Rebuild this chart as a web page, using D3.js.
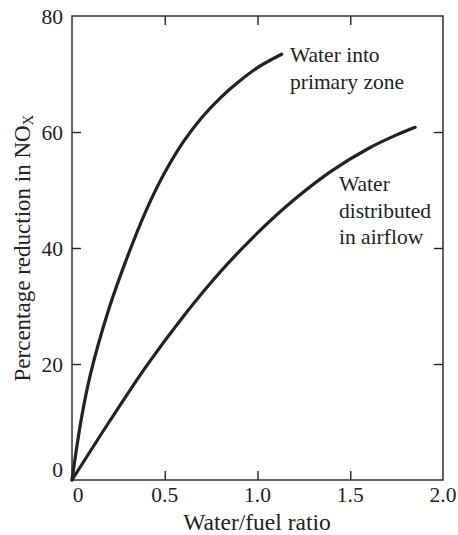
<!DOCTYPE html>
<html>
<head>
<meta charset="utf-8">
<script src="https://cdn.jsdelivr.net/npm/d3@7"></script>
<style>
  html, body { margin: 0; padding: 0; background: #fff; }
  svg { display: block; }
  text { font-family: "Liberation Serif", "Times New Roman", serif; fill: #222; }
</style>
</head>
<body>
<svg id="chart" width="458" height="535"></svg>
<script>
// Water/fuel ratio vs. percentage NOx reduction
const primaryRatio = [0, 0.05, 0.1, 0.2, 0.3, 0.4, 0.5, 0.6, 0.7, 0.8, 0.9, 1.0, 1.13];
const primaryReduction = [0, 10.5, 18.3, 29.6, 38.6, 46.5, 53.0, 58.3, 62.5, 65.9, 68.7, 71.1, 73.4];

const airflowRatio = [0, 0.2, 0.4, 0.6, 0.8, 1.0, 1.2, 1.4, 1.6, 1.75, 1.85];
const airflowReduction = [0, 10.0, 19.6, 28.2, 35.9, 42.6, 48.4, 53.3, 57.2, 59.5, 60.8];

const xTicks = [0, 0.5, 1.0, 1.5, 2.0];
const xTickLabels = ["0", "0.5", "1.0", "1.5", "2.0"];
const yTicks = [0, 20, 40, 60, 80];
const yTickLabels = ["0", "20", "40", "60", "80"];

const svg = d3.select("#chart");
const plot = { left: 72, right: 443, top: 16, bottom: 480 };

const x = d3.scaleLinear().domain([0, 2]).range([plot.left, plot.right]);
const y = d3.scaleLinear().domain([0, 80]).range([plot.bottom, plot.top]);

const ink = "#222";
const tickLen = 9;

// Frame
svg.append("rect")
  .attr("x", plot.left).attr("y", plot.top)
  .attr("width", plot.right - plot.left).attr("height", plot.bottom - plot.top)
  .attr("fill", "none").attr("stroke", ink).attr("stroke-width", 1.4);

// Inward ticks on all four sides (interior values only)
const innerX = xTicks.slice(1, -1);
const innerY = yTicks.slice(1, -1);
function drawTicks(axis, transform) {
  const g = svg.append("g").attr("transform", transform).call(axis);
  g.select(".domain").remove();
  g.selectAll("line").attr("stroke", ink).attr("stroke-width", 1.4);
  g.selectAll("text").remove();
}
drawTicks(d3.axisBottom(x).tickValues(innerX).tickSizeInner(-tickLen).tickSizeOuter(0), `translate(0,${plot.bottom})`);
drawTicks(d3.axisTop(x).tickValues(innerX).tickSizeInner(-tickLen).tickSizeOuter(0), `translate(0,${plot.top})`);
drawTicks(d3.axisLeft(y).tickValues(innerY).tickSizeInner(-tickLen).tickSizeOuter(0), `translate(${plot.left},0)`);
drawTicks(d3.axisRight(y).tickValues(innerY).tickSizeInner(-tickLen).tickSizeOuter(0), `translate(${plot.right},0)`);

// Tick labels
svg.append("g").selectAll("text").data(xTicks).join("text")
  .attr("x", (d, i) => x(d) + (i === 0 ? 6 : 0))
  .attr("y", 502)
  .attr("text-anchor", "middle")
  .attr("font-size", 21.5)
  .text((d, i) => xTickLabels[i]);

svg.append("g").selectAll("text").data(yTicks).join("text")
  .attr("x", 63)
  .attr("y", d => y(d) + (d === 0 ? -11 : 0))
  .attr("dy", "0.35em")
  .attr("text-anchor", "end")
  .attr("font-size", 21.5)
  .text((d, i) => yTickLabels[i]);

// Axis titles
svg.append("text")
  .attr("x", 257)
  .attr("y", 530)
  .attr("text-anchor", "middle")
  .attr("font-size", 23.5)
  .text("Water/fuel ratio");

const yTitle = svg.append("text")
  .attr("transform", `translate(30,248) rotate(-90)`)
  .attr("text-anchor", "middle")
  .attr("font-size", 23);
yTitle.append("tspan").text("Percentage reduction in NO");
yTitle.append("tspan").attr("font-size", 15).attr("dy", 3).text("X");

// Curves
const line = d3.line()
  .x(d => x(d[0])).y(d => y(d[1]))
  .curve(d3.curveCatmullRom.alpha(0.5));
const series = [
  d3.zip(primaryRatio, primaryReduction),
  d3.zip(airflowRatio, airflowReduction)
];
svg.append("g").selectAll("path").data(series).join("path")
  .attr("d", line)
  .attr("fill", "none")
  .attr("stroke", ink)
  .attr("stroke-width", 3.2)
  .attr("stroke-linecap", "round");

// Curve annotations
function note(lines, x0, y0) {
  const t = svg.append("text").attr("font-size", 21.5);
  lines.forEach((s, i) => t.append("tspan").attr("x", x0).attr("y", y0 + i * 26.5).text(s));
}
note(["Water into", "primary zone"], 290, 62);
note(["Water", "distributed", "in airflow"], 339, 191);
</script>
</body>
</html>
